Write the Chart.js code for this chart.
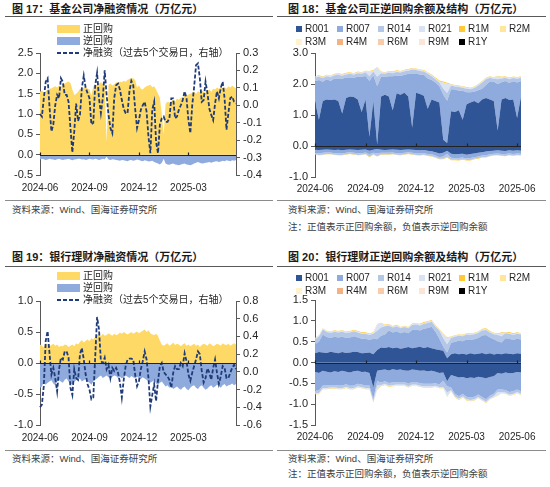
<!DOCTYPE html>
<html>
<head>
<meta charset="utf-8">
<script src="https://cdn.jsdelivr.net/npm/chart.js@4.4.1/dist/chart.umd.min.js"></script>
<style>
  body { margin: 0; width: 550px; height: 487px; position: relative; overflow: hidden; background: #fff;
         font-family: "Liberation Sans", "Noto Sans CJK SC", sans-serif; color: #262626; }
  .abs { position: absolute; white-space: nowrap; line-height: 1; }
  .title { font-size: 11px; font-weight: bold; color: #1a1a1a; }
  .rule { height: 1px; background: #595959; }
  .foot { height: 1px; background: #8c8c8c; }
  .src { font-size: 9.5px; color: #404040; }
  .lg { font-size: 10px; color: #262626; }
  canvas { position: absolute; }
</style>
</head>
<body>

<div class="abs title" style="left:12px;top:4px">图 17：基金公司净融资情况（万亿元）</div>
<div class="abs title" style="left:288px;top:4px">图 18：基金公司正逆回购余额及结构（万亿元）</div>
<div class="abs rule" style="left:5px;top:16px;width:268px"></div>
<div class="abs rule" style="left:277px;top:16px;width:269px"></div>

<div class="abs title" style="left:12px;top:252px">图 19：银行理财净融资情况（万亿元）</div>
<div class="abs title" style="left:288px;top:252px">图 20：银行理财正逆回购余额及结构（万亿元）</div>
<div class="abs rule" style="left:5px;top:266px;width:268px"></div>
<div class="abs rule" style="left:277px;top:266px;width:269px"></div>

<canvas id="c17" width="275" height="180" style="left:0;top:20px"></canvas>
<canvas id="c18" width="275" height="180" style="left:275px;top:20px"></canvas>
<canvas id="c19" width="275" height="182" style="left:0;top:268px"></canvas>
<canvas id="c20" width="275" height="182" style="left:275px;top:268px"></canvas>

<div class="abs foot" style="left:5px;top:200px;width:268px"></div>
<div class="abs foot" style="left:277px;top:200px;width:269px"></div>
<div class="abs src" style="left:12px;top:205px">资料来源：Wind、国海证券研究所</div>
<div class="abs src" style="left:288px;top:205px">资料来源：Wind、国海证券研究所</div>
<div class="abs src" style="left:288px;top:222px">注：正值表示正回购余额，负值表示逆回购余额</div>

<div class="abs foot" style="left:5px;top:450px;width:268px"></div>
<div class="abs foot" style="left:277px;top:450px;width:269px"></div>
<div class="abs src" style="left:12px;top:454px">资料来源：Wind、国海证券研究所</div>
<div class="abs src" style="left:288px;top:454px">资料来源：Wind、国海证券研究所</div>
<div class="abs src" style="left:288px;top:469px">注：正值表示正回购余额，负值表示逆回购余额</div>

<div id="legends"></div>

<script>
// ---------- data (万亿元) ----------
// 图17/19: sampled Mon & Thu, 2024-06-03 .. 2025-05-29 (104 points)
// 图18/20: sampled weekly on Mondays, 2024-06-03 .. 2025-06-09 (54 points)

const fundRepo = [
  1.55, 1.58, 1.52, 1.56, 1.60, 1.62, 1.63, 1.66, 1.68, 1.65,
  1.70, 1.66, 1.72, 1.75, 1.78, 1.80, 1.76, 1.60, 1.47, 1.50,
  1.55, 1.62, 1.60, 1.65, 1.66, 1.63, 1.60, 1.45, 1.68, 1.70,
  1.72, 1.75, 1.78, 1.74, 1.72, 0.30, 1.72, 1.75, 1.70, 1.73,
  1.78, 1.76, 1.80, 1.78, 1.82, 1.79, 1.84, 1.86, 1.87, 1.88,
  1.83, 1.65, 1.70, 1.62, 1.60, 1.65, 1.68, 1.70, 1.72, 1.66,
  1.68, 1.60, 1.50, 1.40, 1.00, 0.50, 1.25, 1.30, 1.28, 1.32,
  1.35, 1.30, 1.38, 1.35, 1.40, 1.42, 1.45, 1.44, 1.48, 1.50,
  1.52, 1.55, 1.50, 1.56, 1.54, 1.58, 1.55, 1.52, 1.58, 1.60,
  1.55, 1.62, 1.60, 1.65, 1.62, 1.66, 1.64, 1.66, 1.62, 1.68,
  1.65, 1.70, 1.66, 1.64
];
const fundReverse = [
  -0.12, -0.10, -0.11, -0.13, -0.12, -0.10, -0.11, -0.12, -0.13, -0.11,
  -0.10, -0.12, -0.13, -0.12, -0.11, -0.10, -0.12, -0.14, -0.12, -0.11,
  -0.10, -0.10, -0.12, -0.11, -0.13, -0.12, -0.10, -0.11, -0.12, -0.10,
  -0.11, -0.13, -0.12, -0.10, -0.11, -0.05, -0.12, -0.13, -0.11, -0.12,
  -0.13, -0.14, -0.15, -0.13, -0.14, -0.15, -0.16, -0.14, -0.13, -0.15,
  -0.14, -0.12, -0.13, -0.15, -0.16, -0.14, -0.15, -0.17, -0.16, -0.15,
  -0.18, -0.20, -0.22, -0.24, -0.20, -0.10, -0.22, -0.24, -0.25, -0.23,
  -0.22, -0.24, -0.25, -0.26, -0.24, -0.23, -0.22, -0.24, -0.25, -0.26,
  -0.24, -0.22, -0.20, -0.18, -0.20, -0.22, -0.21, -0.20, -0.19, -0.18,
  -0.20, -0.18, -0.17, -0.16, -0.18, -0.17, -0.15, -0.16, -0.14, -0.15,
  -0.16, -0.14, -0.15, -0.13
];
const fundNet = [
  -0.05, -0.065, 0.04, 0.135, 0.154, -0.01, -0.15, -0.11, 0.0, 0.06,
  0.04, 0.155, 0.135, 0.06, 0.06, 0.02, -0.13, -0.27, -0.15, 0.01,
  -0.09, -0.055, 0.10, 0.17, 0.10, 0.07, 0.04, -0.11, -0.10, 0.115,
  0.185, 0.04, -0.045, 0.04, 0.20, 0.06, -0.055, -0.13, -0.16, 0.04,
  0.115, 0.125, 0.09, 0.03, -0.02, -0.045, -0.045, 0.08, 0.14, 0.115,
  -0.02, -0.13, -0.085, -0.025, 0.0, 0.02, -0.035, -0.18, -0.275, -0.025,
  0.02, -0.21, -0.275, -0.11, -0.075, -0.065, -0.095, -0.095, -0.075, 0.04,
  0.04, -0.075, -0.065, -0.025, 0.0, 0.03, 0.08, 0.04, -0.085, -0.16,
  0.0, 0.105, 0.23, 0.24, 0.155, 0.02, 0.03, 0.135, 0.07, -0.02,
  -0.055, -0.085, 0.01, 0.08, 0.04, 0.10, 0.135, 0.04, -0.14, -0.045,
  0.04, 0.05, 0.02, 0.01
];

const wmpRepo = [
  0.30, 0.28, 0.25, 0.32, 0.30, 0.27, 0.29, 0.31, 0.28, 0.30,
  0.26, 0.28, 0.27, 0.30, 0.29, 0.26, 0.28, 0.30, 0.27, 0.32,
  0.30, 0.34, 0.37, 0.33, 0.36, 0.38, 0.35, 0.40, 0.38, 0.42,
  0.45, 0.46, 0.43, 0.47, 0.44, 0.45, 0.48, 0.46, 0.44, 0.47,
  0.45, 0.46, 0.49, 0.47, 0.50, 0.48, 0.46, 0.48, 0.50, 0.47,
  0.49, 0.51, 0.48, 0.50, 0.52, 0.54, 0.50, 0.53, 0.48, 0.46,
  0.45, 0.47, 0.44, 0.36, 0.30, 0.28, 0.30, 0.32, 0.28, 0.30,
  0.33, 0.29, 0.31, 0.30, 0.27, 0.30, 0.32, 0.28, 0.30, 0.27,
  0.29, 0.31, 0.28, 0.30, 0.26, 0.29, 0.31, 0.30, 0.28, 0.32,
  0.30, 0.27, 0.29, 0.31, 0.30, 0.28, 0.32, 0.30, 0.29, 0.31,
  0.28, 0.30, 0.32, 0.30
];
const wmpReverse = [
  -0.40, -0.38, -0.30, -0.35, -0.32, -0.30, -0.28, -0.33, -0.36, -0.30,
  -0.28, -0.30, -0.32, -0.27, -0.25, -0.30, -0.33, -0.35, -0.30, -0.28,
  -0.27, -0.25, -0.30, -0.28, -0.26, -0.30, -0.32, -0.35, -0.30, -0.27,
  -0.25, -0.22, -0.20, -0.24, -0.22, -0.20, -0.23, -0.25, -0.22, -0.20,
  -0.21, -0.24, -0.22, -0.25, -0.23, -0.20, -0.22, -0.24, -0.21, -0.23,
  -0.25, -0.22, -0.24, -0.26, -0.23, -0.25, -0.27, -0.30, -0.32, -0.30,
  -0.28, -0.33, -0.35, -0.32, -0.30, -0.34, -0.38, -0.36, -0.40, -0.38,
  -0.42, -0.40, -0.38, -0.41, -0.43, -0.40, -0.38, -0.42, -0.44, -0.40,
  -0.37, -0.36, -0.40, -0.42, -0.38, -0.36, -0.40, -0.43, -0.41, -0.38,
  -0.36, -0.40, -0.38, -0.35, -0.37, -0.40, -0.36, -0.34, -0.38, -0.36,
  -0.35, -0.33, -0.36, -0.34
];
const wmpNet = [
  -0.40, -0.37, -0.16, 0.35, 0.46, 0.21, -0.03, 0.045, -0.07, -0.22,
  0.03, 0.16, 0.14, 0.23, 0.23, 0.16, -0.18, -0.26, 0.03, -0.07,
  -0.09, 0.20, 0.27, 0.14, -0.03, -0.14, -0.20, -0.31, -0.29, 0.16,
  0.62, 0.48, 0.12, 0.10, 0.16, 0.03, 0.08, -0.07, 0.045, 0.01,
  0.045, -0.01, -0.12, -0.29, -0.09, 0.065, 0.14, 0.15, 0.15, 0.14,
  -0.03, -0.16, -0.105, 0.03, 0.12, 0.23, 0.14, -0.07, -0.39, -0.26,
  -0.14, -0.33, -0.105, 0.065, 0.10, 0.0, -0.03, -0.05, -0.09, -0.18,
  -0.01, 0.065, 0.03, 0.03, 0.10, 0.065, 0.21, 0.12, -0.03, -0.10,
  -0.01, 0.065, 0.14, 0.23, 0.20, 0.01, -0.12, -0.07, 0.04, -0.01,
  -0.09, 0.045, 0.14, -0.01, -0.135, -0.05, 0.065, 0.045, -0.07, -0.07,
  -0.01, 0.045, 0.08, 0.03
];

// 图18 基金公司: positive = 正回购, negative = 逆回购
const fundR001 = [
  1.45, 0.85, 1.45, 1.50, 1.48, 1.50, 1.45, 1.05, 1.55, 1.60,
  1.58, 1.50, 1.10, 1.50, 0.30, 1.45, 0.05, 1.60, 1.65, 1.60,
  1.15, 1.70, 1.65, 1.72, 1.60, 0.60, 1.72, 1.68, 1.62, 1.20,
  1.50, 1.45, 1.40, 0.20, 0.10, 1.12, 1.10, 1.15, 0.85, 1.35,
  1.40, 1.45, 1.38, 1.50, 1.55, 1.50, 1.45, 0.50, 1.50, 1.55,
  1.48, 1.50, 0.90, 1.60
];
const fundR007 = [
  0.63, 1.28, 0.62, 0.65, 0.62, 0.68, 0.73, 1.12, 0.66, 0.61,
  0.62, 0.73, 1.13, 0.76, 1.80, 0.83, 1.88, 0.63, 0.58, 0.65,
  1.10, 0.57, 0.62, 0.57, 0.73, 1.72, 0.63, 0.62, 0.68, 0.98,
  0.63, 0.60, 0.53, 1.45, 1.36, 0.71, 0.72, 0.63, 0.93, 0.38,
  0.33, 0.30, 0.42, 0.35, 0.42, 0.58, 0.62, 1.50, 0.56, 0.55,
  0.55, 0.59, 1.15, 0.50
];
const fundR014 = [
  0.12, 0.10, 0.12, 0.10, 0.12, 0.10, 0.12, 0.10, 0.10, 0.12,
  0.10, 0.12, 0.10, 0.12, 0.15, 0.12, 0.30, 0.12, 0.10, 0.12,
  0.10, 0.12, 0.10, 0.12, 0.10, 0.15, 0.10, 0.12, 0.10, 0.15,
  0.12, 0.10, 0.12, 0.20, 0.25, 0.12, 0.10, 0.12, 0.10, 0.12,
  0.10, 0.12, 0.15, 0.20, 0.18, 0.12, 0.10, 0.15, 0.12, 0.10,
  0.12, 0.10, 0.12, 0.10
];
const fundR021 = [
  0.03, 0.03, 0.03, 0.03, 0.03, 0.03, 0.03, 0.03, 0.03, 0.03,
  0.03, 0.03, 0.03, 0.03, 0.15, 0.03, 0.30, 0.03, 0.03, 0.03,
  0.03, 0.03, 0.03, 0.03, 0.03, 0.03, 0.03, 0.03, 0.03, 0.03,
  0.03, 0.03, 0.03, 0.20, 0.30, 0.03, 0.03, 0.03, 0.03, 0.03,
  0.03, 0.03, 0.03, 0.03, 0.03, 0.03, 0.03, 0.10, 0.03, 0.03,
  0.03, 0.03, 0.03, 0.03
];
const fundR1M = [
  0.02, 0.02, 0.02, 0.02, 0.02, 0.02, 0.02, 0.02, 0.02, 0.02,
  0.02, 0.02, 0.02, 0.02, 0.02, 0.02, 0.02, 0.02, 0.02, 0.02,
  0.02, 0.02, 0.02, 0.02, 0.02, 0.02, 0.02, 0.02, 0.02, 0.02,
  0.03, 0.03, 0.03, 0.03, 0.03, 0.02, 0.02, 0.02, 0.02, 0.02,
  0.02, 0.02, 0.02, 0.02, 0.02, 0.02, 0.02, 0.02, 0.02, 0.02,
  0.02, 0.02, 0.02, 0.02
];
const fundR001Rev = [
  -0.12, -0.13, -0.12, -0.11, -0.12, -0.13, -0.12, -0.14, -0.12, -0.11,
  -0.12, -0.13, -0.12, -0.11, -0.15, -0.12, -0.10, -0.12, -0.13, -0.12,
  -0.11, -0.12, -0.13, -0.12, -0.11, -0.12, -0.13, -0.14, -0.13, -0.15,
  -0.17, -0.20, -0.24, -0.22, -0.15, -0.25, -0.27, -0.26, -0.25, -0.28,
  -0.26, -0.24, -0.22, -0.20, -0.18, -0.16, -0.15, -0.14, -0.15, -0.16,
  -0.14, -0.15, -0.14, -0.15
];
const fundR007Rev = [
  -0.10, -0.11, -0.10, -0.10, -0.09, -0.10, -0.11, -0.10, -0.10, -0.09,
  -0.10, -0.10, -0.11, -0.10, -0.12, -0.10, -0.13, -0.10, -0.09, -0.10,
  -0.10, -0.11, -0.10, -0.10, -0.09, -0.10, -0.11, -0.10, -0.10, -0.11,
  -0.10, -0.11, -0.12, -0.12, -0.10, -0.13, -0.12, -0.13, -0.12, -0.12,
  -0.13, -0.12, -0.12, -0.11, -0.12, -0.11, -0.10, -0.10, -0.11, -0.10,
  -0.10, -0.11, -0.10, -0.10
];
const fundR014Rev = [
  -0.05, -0.05, -0.06, -0.05, -0.05, -0.05, -0.06, -0.05, -0.05, -0.05,
  -0.05, -0.06, -0.05, -0.05, -0.08, -0.05, -0.10, -0.05, -0.05, -0.05,
  -0.05, -0.05, -0.06, -0.05, -0.05, -0.05, -0.05, -0.06, -0.05, -0.05,
  -0.06, -0.05, -0.05, -0.07, -0.10, -0.06, -0.05, -0.06, -0.05, -0.05,
  -0.06, -0.05, -0.05, -0.05, -0.06, -0.05, -0.05, -0.05, -0.05, -0.06,
  -0.05, -0.05, -0.05, -0.05
];
const fundR1MRev = [
  -0.01, -0.01, -0.01, -0.01, -0.01, -0.01, -0.01, -0.01, -0.01, -0.01,
  -0.01, -0.01, -0.01, -0.01, -0.01, -0.01, -0.01, -0.01, -0.01, -0.01,
  -0.01, -0.01, -0.01, -0.01, -0.01, -0.01, -0.01, -0.01, -0.01, -0.01,
  -0.01, -0.02, -0.02, -0.02, -0.02, -0.02, -0.02, -0.02, -0.02, -0.02,
  -0.02, -0.02, -0.02, -0.01, -0.01, -0.01, -0.01, -0.01, -0.01, -0.01,
  -0.01, -0.01, -0.01, -0.01
];

// 图20 银行理财
const wmpR001 = [
  0.22, 0.25, 0.24, 0.23, 0.26, 0.24, 0.22, 0.25, 0.23, 0.24,
  0.26, 0.25, 0.22, 0.23, 0.24, 0.20, 0.30, 0.36, 0.35, 0.37,
  0.34, 0.36, 0.33, 0.35, 0.37, 0.34, 0.36, 0.38, 0.35, 0.37,
  0.34, 0.32, 0.30, 0.28, 0.10, 0.20, 0.22, 0.20, 0.21, 0.19,
  0.22, 0.20, 0.21, 0.23, 0.20, 0.22, 0.19, 0.21, 0.20, 0.22,
  0.21, 0.20, 0.22, 0.21
];
const wmpR007 = [
  0.22, 0.25, 0.43, 0.38, 0.33, 0.38, 0.38, 0.37, 0.36, 0.36,
  0.37, 0.35, 0.35, 0.34, 0.30, 0.37, 0.26, 0.28, 0.32, 0.40,
  0.38, 0.39, 0.37, 0.38, 0.33, 0.44, 0.43, 0.39, 0.46, 0.46,
  0.52, 0.42, 0.27, 0.10, 0.14, 0.27, 0.28, 0.32, 0.30, 0.36,
  0.32, 0.36, 0.38, 0.42, 0.46, 0.38, 0.37, 0.30, 0.28, 0.36,
  0.36, 0.34, 0.35, 0.34
];
const wmpR014 = [
  0.12, 0.12, 0.12, 0.12, 0.12, 0.12, 0.12, 0.12, 0.12, 0.12,
  0.12, 0.12, 0.12, 0.12, 0.12, 0.12, 0.20, 0.20, 0.20, 0.12,
  0.12, 0.12, 0.12, 0.12, 0.12, 0.12, 0.12, 0.12, 0.12, 0.12,
  0.12, 0.12, 0.20, 0.20, 0.20, 0.12, 0.12, 0.12, 0.12, 0.12,
  0.12, 0.12, 0.12, 0.12, 0.12, 0.12, 0.12, 0.15, 0.15, 0.12,
  0.12, 0.12, 0.12, 0.12
];
const wmpR021 = [
  0.02, 0.02, 0.02, 0.02, 0.02, 0.02, 0.02, 0.02, 0.02, 0.02,
  0.02, 0.02, 0.02, 0.02, 0.02, 0.02, 0.15, 0.10, 0.02, 0.02,
  0.02, 0.02, 0.02, 0.02, 0.02, 0.02, 0.02, 0.02, 0.02, 0.02,
  0.02, 0.02, 0.02, 0.10, 0.15, 0.02, 0.02, 0.02, 0.02, 0.02,
  0.02, 0.02, 0.02, 0.02, 0.02, 0.02, 0.02, 0.02, 0.08, 0.02,
  0.02, 0.02, 0.02, 0.02
];
const wmpR1M = [
  0.015, 0.015, 0.015, 0.015, 0.015, 0.015, 0.015, 0.015, 0.015, 0.015,
  0.015, 0.015, 0.015, 0.015, 0.015, 0.015, 0.015, 0.015, 0.015, 0.015,
  0.015, 0.015, 0.015, 0.015, 0.015, 0.015, 0.015, 0.02, 0.02, 0.02,
  0.02, 0.02, 0.015, 0.015, 0.015, 0.015, 0.015, 0.015, 0.015, 0.015,
  0.015, 0.015, 0.015, 0.02, 0.02, 0.015, 0.015, 0.015, 0.015, 0.015,
  0.02, 0.02, 0.015, 0.015
];
const wmpR001Rev = [
  -0.22, -0.25, -0.20, -0.22, -0.24, -0.21, -0.23, -0.20, -0.22, -0.24,
  -0.21, -0.20, -0.23, -0.22, -0.25, -0.60, -0.20, -0.18, -0.17, -0.19,
  -0.16, -0.18, -0.17, -0.19, -0.20, -0.17, -0.18, -0.20, -0.19, -0.21,
  -0.20, -0.22, -0.25, -0.24, -0.45, -0.30, -0.33, -0.36, -0.35, -0.38,
  -0.36, -0.37, -0.34, -0.36, -0.38, -0.35, -0.33, -0.25, -0.27, -0.24,
  -0.26, -0.25, -0.23, -0.24
];
const wmpR007Rev = [
  -0.45, -0.42, -0.35, -0.33, -0.30, -0.33, -0.32, -0.35, -0.30, -0.32,
  -0.34, -0.31, -0.30, -0.33, -0.30, -0.27, -0.25, -0.30, -0.28, -0.30,
  -0.32, -0.29, -0.30, -0.28, -0.31, -0.30, -0.29, -0.30, -0.32, -0.30,
  -0.31, -0.28, -0.28, -0.20, -0.12, -0.30, -0.42, -0.45, -0.40, -0.44,
  -0.48, -0.45, -0.43, -0.47, -0.50, -0.45, -0.42, -0.40, -0.38, -0.42,
  -0.45, -0.44, -0.42, -0.45
];
const wmpR014Rev = [
  -0.06, -0.06, -0.06, -0.06, -0.06, -0.06, -0.06, -0.06, -0.06, -0.06,
  -0.06, -0.06, -0.06, -0.06, -0.06, -0.06, -0.10, -0.06, -0.06, -0.06,
  -0.06, -0.06, -0.06, -0.06, -0.06, -0.06, -0.06, -0.06, -0.06, -0.06,
  -0.06, -0.06, -0.06, -0.15, -0.15, -0.06, -0.06, -0.06, -0.06, -0.06,
  -0.06, -0.06, -0.06, -0.06, -0.06, -0.06, -0.06, -0.06, -0.06, -0.06,
  -0.06, -0.06, -0.06, -0.06
];
const wmpR021Rev = [
  -0.02, -0.02, -0.02, -0.02, -0.02, -0.02, -0.02, -0.02, -0.02, -0.02,
  -0.02, -0.02, -0.02, -0.02, -0.02, -0.02, -0.10, -0.02, -0.02, -0.02,
  -0.02, -0.02, -0.02, -0.02, -0.02, -0.02, -0.02, -0.02, -0.02, -0.02,
  -0.02, -0.02, -0.02, -0.02, -0.10, -0.02, -0.02, -0.02, -0.02, -0.02,
  -0.02, -0.02, -0.02, -0.02, -0.02, -0.02, -0.02, -0.08, -0.02, -0.02,
  -0.02, -0.02, -0.02, -0.02
];
const wmpR1MRev = [
  -0.01, -0.01, -0.01, -0.01, -0.01, -0.01, -0.01, -0.01, -0.01, -0.01,
  -0.01, -0.01, -0.01, -0.01, -0.01, -0.01, -0.01, -0.01, -0.01, -0.01,
  -0.01, -0.01, -0.01, -0.01, -0.01, -0.01, -0.01, -0.01, -0.01, -0.01,
  -0.01, -0.01, -0.01, -0.01, -0.01, -0.01, -0.01, -0.01, -0.01, -0.01,
  -0.01, -0.01, -0.01, -0.01, -0.01, -0.01, -0.01, -0.01, -0.01, -0.01,
  -0.01, -0.01, -0.01, -0.01
];

// legend tenors and colours (图18/20)
const tenors = ['R001', 'R007', 'R014', 'R021', 'R1M', 'R2M', 'R3M', 'R4M', 'R6M', 'R9M', 'R1Y'];
const tenorColors = ['#2F5597', '#8FAADC', '#B4C7E7', '#DAE3F3', '#FFC937', '#FFE699',
                     '#FFF2CC', '#F4B183', '#F8CBAD', '#FBE5D6', '#000000'];

const COL_REPO = '#FFD966';
const COL_REV = '#8FAADC';
const COL_NET = '#1F3B78';

// ---------- x categories ----------
function tradingDates(start, end, weekdays) {
  const out = [];
  const d = new Date(start + 'T00:00:00Z');
  const stop = new Date(end + 'T00:00:00Z');
  while (d <= stop) {
    if (weekdays.includes(d.getUTCDay())) out.push(d.toISOString().slice(0, 10));
    d.setUTCDate(d.getUTCDate() + 1);
  }
  return out;
}
const dates17 = tradingDates('2024-06-03', '2025-05-29', [1, 4]);
const dates18 = tradingDates('2024-06-03', '2025-06-09', [1]);

// ---------- helpers ----------
Chart.defaults.font.family = '"Liberation Sans", Arial, sans-serif';
Chart.defaults.color = '#262626';
Chart.defaults.animation = false;

const fmt = v => (Math.abs(v) < 1e-9 ? 0 : v).toFixed(1);

function quarterTick(labels) {
  return function (value, index) {
    const m = labels[index].slice(5, 7);
    const prev = index > 0 ? labels[index - 1].slice(5, 7) : null;
    return (m !== prev && ['03', '06', '09', '12'].includes(m)) ? labels[index].slice(0, 7) : '';
  };
}

function xAxis(labels, pad) {
  return {
    type: 'category',
    grid: { display: false, drawTicks: false },
    border: { display: false },
    ticks: { autoSkip: false, maxRotation: 0, minRotation: 0, padding: pad, font: { size: 10 },
             callback: quarterTick(labels) },
    afterFit: s => { s.height = 20; }
  };
}

function yAxis(pos, min, max, step, width, stacked) {
  return {
    position: pos, min: min, max: max, stacked: !!stacked,
    ticks: { stepSize: step, padding: 3, font: { size: 11 }, callback: fmt },
    grid: { drawOnChartArea: false, tickLength: 4, color: '#595959', tickColor: '#595959' },
    border: { color: '#595959' },
    afterFit: s => { s.width = width; }
  };
}

// zero line with small quarter tick marks, drawn over the areas
const zeroLine = {
  id: 'zeroLine',
  afterDatasetsDraw(chart) {
    const { ctx, chartArea: a, scales } = chart;
    const x = scales.x, y = scales.y;
    const y0 = Math.round(y.getPixelForValue(0)) + 0.5;
    ctx.save();
    ctx.strokeStyle = '#222';
    ctx.lineWidth = 1.2;
    ctx.beginPath();
    ctx.moveTo(a.left, y0);
    ctx.lineTo(a.right, y0);
    x.ticks.forEach((t, i) => {
      if (t.label) {
        const px = Math.round(x.getPixelForTick(i)) + 0.5;
        ctx.moveTo(px, y0);
        ctx.lineTo(px, y0 - 3);
      }
    });
    ctx.stroke();
    ctx.restore();
  }
};

function area(label, data, color, extra) {
  return Object.assign({ label, data, backgroundColor: color, borderColor: color, borderWidth: 0,
                         pointRadius: 0, tension: 0, fill: 'origin', yAxisID: 'y', order: 1 }, extra || {});
}

function netChart(id, labels, repo, rev, net, yMin, yMax, y1Min, y1Max, y1Step, padTop) {
  new Chart(document.getElementById(id), {
    type: 'line',
    data: {
      labels: labels,
      datasets: [
        { label: '净融资（过去5个交易日，右轴）', data: net, yAxisID: 'y1', borderColor: COL_NET,
          borderWidth: 1.8, borderDash: [4, 2], pointRadius: 0, tension: 0, fill: false, order: 0 },
        area('正回购', repo, COL_REPO),
        area('逆回购', rev, COL_REV)
      ]
    },
    options: {
      responsive: false,
      events: [],
      layout: { padding: { top: padTop, bottom: 5, left: 0, right: 0 } },
      plugins: { legend: { display: false }, tooltip: { enabled: false } },
      scales: {
        x: xAxis(labels, 7),
        y: yAxis('left', yMin, yMax, 0.5, 40),
        y1: yAxis('right', y1Min, y1Max, y1Step, 39)
      }
    },
    plugins: [zeroLine]
  });
}

function structChart(id, labels, posSets, negSets, yMin, yMax, padTop, padBottom) {
  const sets = [];
  [['pos', posSets], ['neg', negSets]].forEach(([stack, list]) => {
    list.forEach((s, k) => {
      const c = tenorColors[tenors.indexOf(s[0])];
      sets.push(area(s[0], s[1], c, { stack: stack, fill: k === 0 ? 'origin' : '-1' }));
    });
  });
  new Chart(document.getElementById(id), {
    type: 'line',
    data: { labels: labels, datasets: sets },
    options: {
      responsive: false,
      events: [],
      layout: { padding: { top: padTop, bottom: padBottom, left: 0, right: 29 } },
      plugins: { legend: { display: false }, tooltip: { enabled: false } },
      scales: {
        x: xAxis(labels, 6),
        y: yAxis('left', yMin, yMax, 0.5, 40, true)
      }
    },
    plugins: [zeroLine]
  });
}

// ---------- charts ----------
netChart('c17', dates17, fundRepo, fundReverse, fundNet, -0.5, 2.5, -0.4, 0.3, 0.1, 33);
netChart('c19', dates17, wmpRepo, wmpReverse, wmpNet, -1.0, 1.0, -0.6, 0.8, 0.2, 33);

structChart('c18', dates18,
  [['R001', fundR001], ['R007', fundR007], ['R014', fundR014], ['R021', fundR021], ['R1M', fundR1M]],
  [['R001', fundR001Rev], ['R007', fundR007Rev], ['R014', fundR014Rev], ['R1M', fundR1MRev]],
  -1.0, 3.0, 33, 3);
structChart('c20', dates18,
  [['R001', wmpR001], ['R007', wmpR007], ['R014', wmpR014], ['R021', wmpR021], ['R1M', wmpR1M]],
  [['R001', wmpR001Rev], ['R007', wmpR007Rev], ['R014', wmpR014Rev], ['R021', wmpR021Rev], ['R1M', wmpR1MRev]],
  -1.5, 1.5, 32, 5);

// ---------- legends ----------
const lg = document.getElementById('legends');
function add(html) { lg.insertAdjacentHTML('beforeend', html); }

function netLegend(top) {
  add(`<div class="abs" style="left:57px;top:${top}px;width:23px;height:8px;background:${COL_REPO}"></div>`);
  add(`<div class="abs lg" style="left:83px;top:${top - 1}px">正回购</div>`);
  add(`<div class="abs" style="left:57px;top:${top + 12}px;width:23px;height:8px;background:${COL_REV}"></div>`);
  add(`<div class="abs lg" style="left:83px;top:${top + 11}px">逆回购</div>`);
  add(`<svg class="abs" style="left:57px;top:${top + 26}px" width="24" height="4">` +
      `<line x1="0" y1="2" x2="24" y2="2" stroke="${COL_NET}" stroke-width="2" stroke-dasharray="4 2"/></svg>`);
  add(`<div class="abs lg" style="left:83px;top:${top + 23}px">净融资（过去5个交易日，右轴）</div>`);
}
netLegend(25);
netLegend(272);

function tenorLegend(row1) {
  const cols = [296, 337, 378, 419, 459, 500];
  tenors.forEach((t, i) => {
    const x = cols[i % 6], y = row1 + Math.floor(i / 6) * 13;
    add(`<div class="abs" style="left:${x}px;top:${y - 3}px;width:6px;height:6px;background:${tenorColors[i]}"></div>`);
    add(`<div class="abs lg" style="left:${x + 9}px;top:${y - 5}px">${t}</div>`);
  });
}
tenorLegend(29);
tenorLegend(278);
</script>
</body>
</html>
